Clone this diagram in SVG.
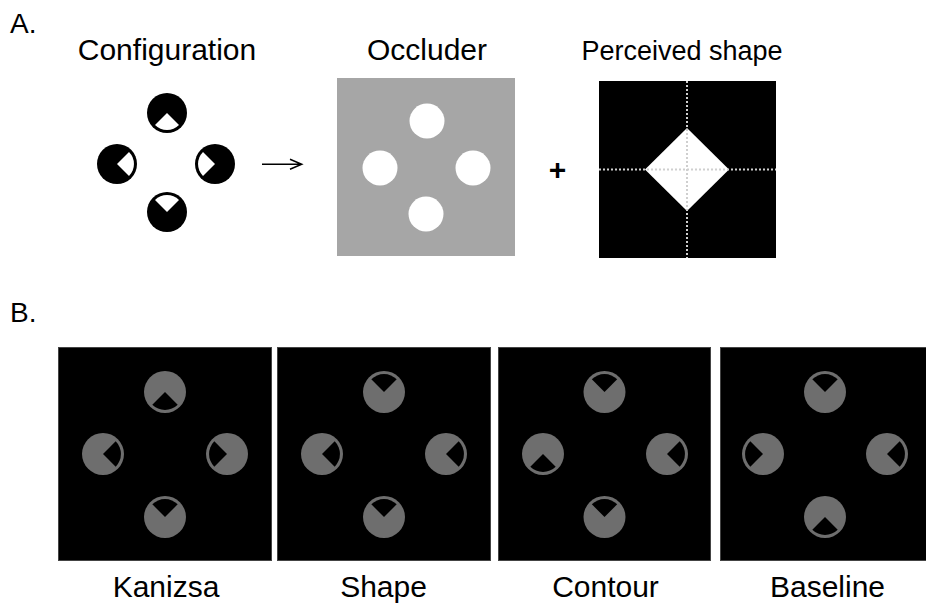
<svg xmlns="http://www.w3.org/2000/svg" xmlns:xlink="http://www.w3.org/1999/xlink" width="926" height="606" viewBox="0 0 926 606">
<style>
text{font-family:"Liberation Sans",Arial,sans-serif;fill:#000}
.hd{font-size:30px;text-anchor:middle}
.lb{font-size:28px}
.panel{fill:#000;stroke:#444;stroke-width:1}
.gdisc{fill:#6e6e6e}
.bdisc{fill:#000}
.hole{fill:#fff}
.dot{stroke:#cfcfcf;stroke-width:2;stroke-dasharray:2 2;fill:none}
</style>
<defs>
<path id="wA" d="M0 0L-12 12A17 17 0 0 0 12 12Z" fill="#fff"/>
<path id="wB" d="M0 0L-12.7 12.7A18 18 0 0 0 12.7 12.7Z" fill="#000"/>
</defs>

<text class="lb" x="10" y="33">A.</text>
<text class="lb" x="10" y="322">B.</text>

<g id="configuration">
<text class="hd" x="167" y="60">Configuration</text>
<circle class="bdisc" cx="167" cy="113" r="20"/>
<use xlink:href="#wA" href="#wA" transform="translate(167,113)"/>
<circle class="bdisc" cx="117" cy="164" r="20"/>
<use xlink:href="#wA" href="#wA" transform="translate(117,164) rotate(-90)"/>
<circle class="bdisc" cx="215" cy="164" r="20"/>
<use xlink:href="#wA" href="#wA" transform="translate(215,164) rotate(90)"/>
<circle class="bdisc" cx="167" cy="212" r="20"/>
<use xlink:href="#wA" href="#wA" transform="translate(167,212) rotate(180)"/>
</g>

<g id="occluder">
<text class="hd" x="427" y="60">Occluder</text>
<rect x="337" y="78" width="178" height="178" fill="#a6a6a6"/>
<circle class="hole" cx="427" cy="121" r="17.5"/>
<circle class="hole" cx="380" cy="168" r="17.5"/>
<circle class="hole" cx="473" cy="168" r="17.5"/>
<circle class="hole" cx="426" cy="214" r="17.5"/>
</g>

<g id="plus">
<text x="557.5" y="180" style="font-size:30px;font-weight:bold;text-anchor:middle">+</text>
</g>

<g id="perceived">
<text class="hd" x="682" y="60" style="font-size:27px">Perceived shape</text>
<rect x="599" y="81" width="177" height="177" fill="#000"/>
<polygon points="687,128 729,169.5 687,211 645,169.5" fill="#fff"/>
<line class="dot" x1="687" y1="81" x2="687" y2="258"/>
<line class="dot" x1="599" y1="169.5" x2="776" y2="169.5"/>
</g>

<g id="connectors">
<path d="M262 164.3H301.7M290 159.3L301.7 164.3L290 169.3" fill="none" stroke="#000" stroke-width="1.5"/>
</g>

<g id="kanizsa">
<rect class="panel" x="58.5" y="347.5" width="213" height="213"/>
<circle class="gdisc" cx="165" cy="392" r="21"/>
<use xlink:href="#wB" href="#wB" transform="translate(165,392)"/>
<circle class="gdisc" cx="103" cy="454" r="21"/>
<use xlink:href="#wB" href="#wB" transform="translate(103,454) rotate(-90)"/>
<circle class="gdisc" cx="227" cy="454" r="21"/>
<use xlink:href="#wB" href="#wB" transform="translate(227,454) rotate(90)"/>
<circle class="gdisc" cx="165" cy="517" r="21"/>
<use xlink:href="#wB" href="#wB" transform="translate(165,517) rotate(180)"/>
<text class="hd" x="166" y="597">Kanizsa</text>
</g>

<g id="shape">
<rect class="panel" x="277.5" y="347.5" width="213" height="213"/>
<circle class="gdisc" cx="384" cy="392" r="21"/>
<use xlink:href="#wB" href="#wB" transform="translate(384,392) rotate(180)"/>
<circle class="gdisc" cx="322" cy="454" r="21"/>
<use xlink:href="#wB" href="#wB" transform="translate(322,454) rotate(-90)"/>
<circle class="gdisc" cx="446" cy="454" r="21"/>
<use xlink:href="#wB" href="#wB" transform="translate(446,454) rotate(-90)"/>
<circle class="gdisc" cx="384" cy="517" r="21"/>
<use xlink:href="#wB" href="#wB" transform="translate(384,517) rotate(180)"/>
<text class="hd" x="383.5" y="597">Shape</text>
</g>

<g id="contour">
<rect class="panel" x="498.5" y="347.5" width="212" height="213"/>
<circle class="gdisc" cx="604.5" cy="392" r="21"/>
<use xlink:href="#wB" href="#wB" transform="translate(604.5,392) rotate(180)"/>
<circle class="gdisc" cx="543" cy="454" r="21"/>
<use xlink:href="#wB" href="#wB" transform="translate(543,454)"/>
<circle class="gdisc" cx="667" cy="454" r="21"/>
<use xlink:href="#wB" href="#wB" transform="translate(667,454) rotate(-90)"/>
<circle class="gdisc" cx="604.5" cy="517" r="21"/>
<use xlink:href="#wB" href="#wB" transform="translate(604.5,517) rotate(180)"/>
<text class="hd" x="605.5" y="597">Contour</text>
</g>

<g id="baseline">
<rect class="panel" x="720.5" y="347.5" width="213" height="213"/>
<circle class="gdisc" cx="825" cy="392" r="21"/>
<use xlink:href="#wB" href="#wB" transform="translate(825,392) rotate(180)"/>
<circle class="gdisc" cx="763" cy="454" r="21"/>
<use xlink:href="#wB" href="#wB" transform="translate(763,454) rotate(90)"/>
<circle class="gdisc" cx="887" cy="454" r="21"/>
<use xlink:href="#wB" href="#wB" transform="translate(887,454) rotate(-90)"/>
<circle class="gdisc" cx="825" cy="517" r="21"/>
<use xlink:href="#wB" href="#wB" transform="translate(825,517)"/>
<text class="hd" x="827.5" y="597">Baseline</text>
</g>
</svg>
